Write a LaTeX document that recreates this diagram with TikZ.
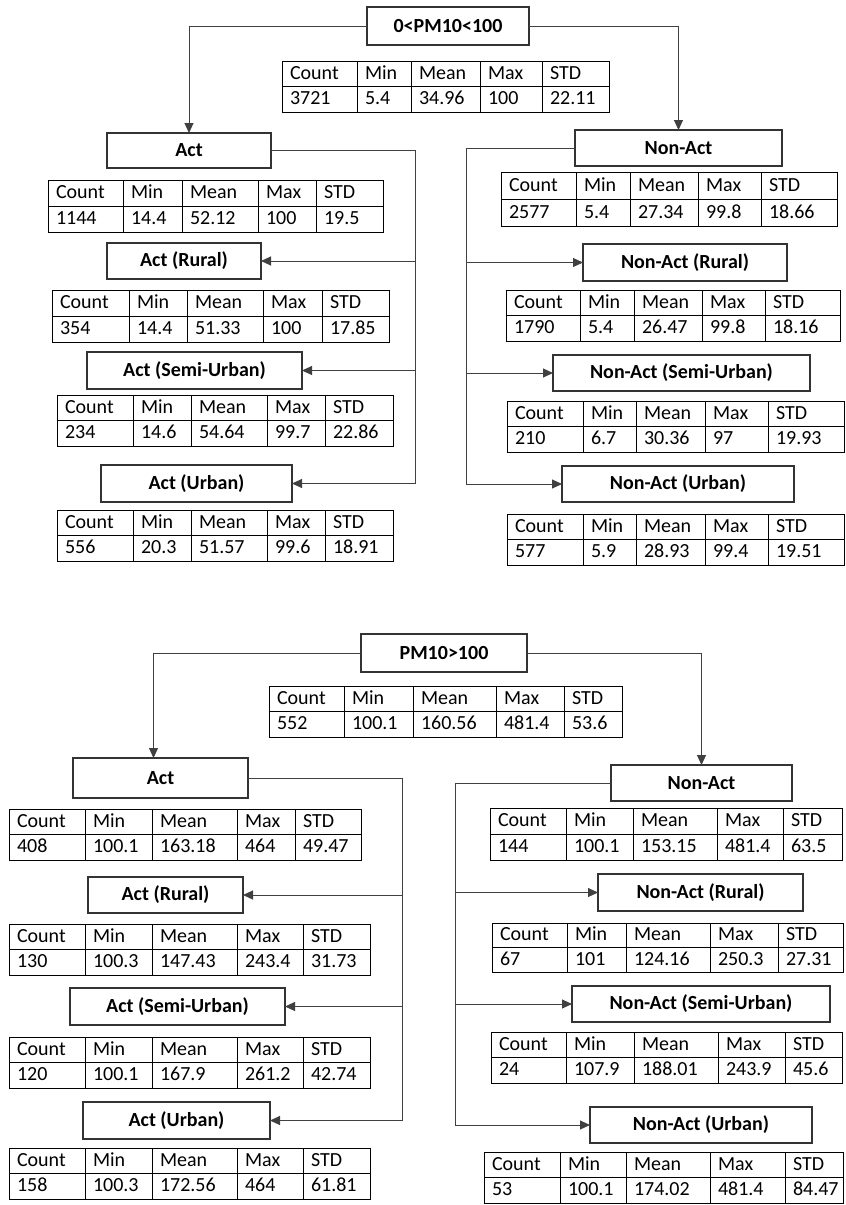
\documentclass[tikz,border=0pt]{standalone}
\usepackage{fontspec}
\setmainfont{Carlito}
\usetikzlibrary{arrows.meta}

\tikzset{
  catbox/.style={draw=black!80, line width=1.6pt, fill=white, font=\fontsize{20}{24}\selectfont\bfseries, inner sep=0pt, outer sep=0pt},
  cell/.style={draw, line width=0.9pt, inner xsep=8pt, inner ysep=1pt, outer sep=0pt, align=left, text height=16pt, text depth=5pt},
  link/.style={draw=black!75, line width=1pt},
}
\newcommand{\colhead}[1]{\ifcase#1\or Count\or Min\or Mean\or Max\or STD\fi}
% stats table: name, top, bottom, xa/xb/value for each column
\newcommand{\stattab}[4]{%
  \foreach \xa/\xb/\va [count=\i] in {#4}{
    \pgfmathsetmacro{\cw}{\xb-\xa-16}
    \node[cell, text width=\cw pt, minimum height={(#3-#2)/2*1pt}, anchor=north west] (#1-h\i) at (\xa,#2) {\colhead{\i}};
    \node[cell, text width=\cw pt, minimum height={(#3-#2)/2*1pt}, anchor=north west] (#1-v\i) at (\xa,{(#2+#3)/2}) {\va};
  }}

\begin{document}
\begin{tikzpicture}[x=1pt,y=-1pt,font=\fontsize{20}{24}\selectfont,>={Triangle[length=10pt,width=9pt]}]
   \useasboundingbox (0,0) rectangle (846,1205);
   % 0<PM10<100
   \node[catbox, minimum width=162pt, minimum height=38pt] (root1) at (448,26) {0<PM10<100};
   \node[catbox, minimum width=164pt, minimum height=35pt] (act1) at (189,150.5) {Act};
   \node[catbox, minimum width=154pt, minimum height=36pt] (actR1) at (184,261) {Act (Rural)};
   \node[catbox, minimum width=215pt, minimum height=37pt] (actS1) at (194.5,370.5) {Act (Semi-Urban)};
   \node[catbox, minimum width=191pt, minimum height=37pt] (actU1) at (196.5,483.5) {Act (Urban)};
   \node[catbox, minimum width=207pt, minimum height=36pt] (non1) at (678.5,148) {Non-Act};
   \node[catbox, minimum width=204pt, minimum height=37pt] (nonR1) at (685,262.5) {Non-Act (Rural)};
   \node[catbox, minimum width=257pt, minimum height=36pt] (nonS1) at (681.5,373) {Non-Act (Semi-Urban)};
   \node[catbox, minimum width=232pt, minimum height=36pt] (nonU1) at (678,484) {Non-Act (Urban)};

   \stattab{troot1}{61}{112}{282/357/3721, 357/411/5.4, 411/480/34.96, 480/542/100, 542/609/22.11}
   \stattab{tact1}{180}{232}{48/123/1144, 123/182/14.4, 182/258/52.12, 258/316/100, 316/383/19.5}
   \stattab{tactR1}{290}{342}{52/129/354, 129/187/14.4, 187/263/51.33, 263/322/100, 322/389/17.85}
   \stattab{tactS1}{395}{446}{57/133/234, 133/191/14.6, 191/267/54.64, 267/325/99.7, 325/393/22.86}
   \stattab{tactU1}{510}{561}{57/133/556, 133/191/20.3, 191/267/51.57, 267/325/99.6, 325/393/18.91}
   \stattab{tnon1}{172}{226}{501/576/2577, 576/630/5.4, 630/698/27.34, 698/761/99.8, 761/837/18.66}
   \stattab{tnonR1}{290}{341}{506/580/1790, 580/634/5.4, 634/702/26.47, 702/765/99.8, 765/840/18.16}
   \stattab{tnonS1}{401}{452}{507/583/210, 583/636/6.7, 636/705/30.36, 705/768/97, 768/844/19.93}
   \stattab{tnonU1}{514}{565}{507/583/577, 583/636/5.9, 636/705/28.93, 705/768/99.4, 768/844/19.51}

   \draw[link,->] (root1.west) -| (act1.north);
   \draw[link,->] (root1.east) -| (non1.north);
   \coordinate (abus1) at (415,0);
   \coordinate (nbus1) at (466,0);
   \draw[link] (act1.east) -- (act1.east -| abus1) -- (actU1.east -| abus1);
   \draw[link] (non1.west) -- (non1.west -| nbus1) -- (nonU1.west -| nbus1);
   \foreach \n in {actR1,actS1,actU1}
     \draw[link,->] (\n.east -| abus1) -- (\n.east);
   \foreach \n in {nonR1,nonS1,nonU1}
     \draw[link,->] (\n.west -| nbus1) -- (\n.west);

   % PM10>100
   \node[catbox, minimum width=166pt, minimum height=38pt] (root2) at (444,653) {PM10>100};
   \node[catbox, minimum width=175pt, minimum height=40pt] (act2) at (160.5,778) {Act};
   \node[catbox, minimum width=155pt, minimum height=36pt] (actR2) at (165.5,895) {Act (Rural)};
   \node[catbox, minimum width=215pt, minimum height=37pt] (actS2) at (177.5,1006.5) {Act (Semi-Urban)};
   \node[catbox, minimum width=187pt, minimum height=37pt] (actU2) at (176.5,1120.5) {Act (Urban)};
   \node[catbox, minimum width=181pt, minimum height=36pt] (non2) at (701.5,783) {Non-Act};
   \node[catbox, minimum width=205pt, minimum height=37pt] (nonR2) at (700.5,892.5) {Non-Act (Rural)};
   \node[catbox, minimum width=258pt, minimum height=36pt] (nonS2) at (701,1004) {Non-Act (Semi-Urban)};
   \node[catbox, minimum width=222pt, minimum height=36pt] (nonU2) at (701,1125) {Non-Act (Urban)};

   \stattab{troot2}{686}{737}{269/344/552, 344/413/100.1, 413/496/160.56, 496/564/481.4, 564/622/53.6}
   \stattab{tact2}{809}{860}{9/85/408, 85/152/100.1, 152/237/163.18, 237/295/464, 295/361/49.47}
   \stattab{tactR2}{924}{975}{9/85/130, 85/152/100.3, 152/237/147.43, 237/303/243.4, 303/370/31.73}
   \stattab{tactS2}{1037}{1088}{9/85/120, 85/152/100.1, 152/237/167.9, 237/303/261.2, 303/370/42.74}
   \stattab{tactU2}{1148}{1199}{9/85/158, 85/152/100.3, 152/237/172.56, 237/303/464, 303/370/61.81}
   \stattab{tnon2}{808}{860}{490/566/144, 566/633/100.1, 633/717/153.15, 717/783/481.4, 783/842/63.5}
   \stattab{tnonR2}{923}{972}{492/567/67, 567/626/101, 626/710/124.16, 710/778/250.3, 778/843/27.31}
   \stattab{tnonS2}{1032}{1083}{491/566/24, 566/634/107.9, 634/718/188.01, 718/785/243.9, 785/842/45.6}
   \stattab{tnonU2}{1152}{1203}{484/560/53, 560/626/100.1, 626/710/174.02, 710/785/481.4, 785/843/84.47}

   \draw[link,->] (root2.west) -| ([xshift=-7pt]act2.north);
   \draw[link,->] (root2.east) -| (non2.north);
   \coordinate (abus2) at (402,0);
   \coordinate (nbus2) at (455,0);
   \draw[link] (act2.east) -- (act2.east -| abus2) -- (actU2.east -| abus2);
   \draw[link] (non2.west) -- (non2.west -| nbus2) -- (nonU2.west -| nbus2);
   \foreach \n in {actR2,actS2,actU2}
     \draw[link,->] (\n.east -| abus2) -- (\n.east);
   \foreach \n in {nonR2,nonS2,nonU2}
     \draw[link,->] (\n.west -| nbus2) -- (\n.west);
\end{tikzpicture}
\end{document}
